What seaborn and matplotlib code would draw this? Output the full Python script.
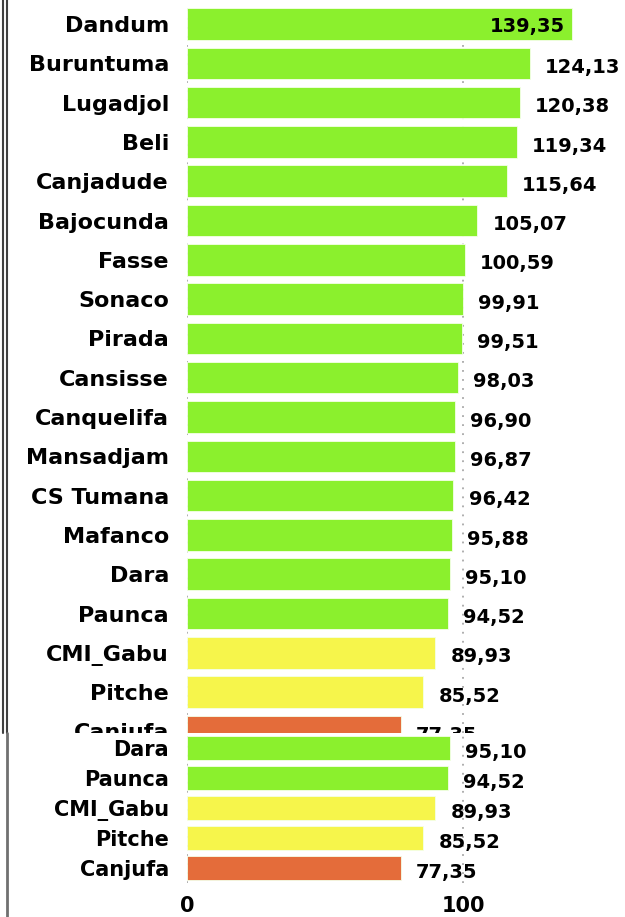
import matplotlib
matplotlib.use("Agg")
import matplotlib.pyplot as plt
from matplotlib.patches import Rectangle
from matplotlib.lines import Line2D
import seaborn as sns

# data
names = ["Dandum", "Buruntuma", "Lugadjol", "Beli", "Canjadude", "Bajocunda", "Fasse",
         "Sonaco", "Pirada", "Cansisse", "Canquelifa", "Mansadjam", "CS Tumana", "Mafanco",
         "Dara", "Paunca", "CMI_Gabu", "Pitche", "Canjufa"]
values = [139.35, 124.13, 120.38, 119.34, 115.64, 105.07, 100.59,
          99.91, 99.51, 98.03, 96.90, 96.87, 96.42, 95.88,
          95.10, 94.52, 89.93, 85.52, 77.35]
# the pasted strip at the bottom repeats the last five rows
inset_names = ["Dara", "Paunca", "CMI_Gabu", "Pitche", "Canjufa"]
inset_values = [95.10, 94.52, 89.93, 85.52, 77.35]
xtick_vals = [0, 100]

palette = {"high": "#8bf02d", "mid": "#f6f54b", "low": "#e46c3a"}


def band(v):
    if v >= 90:
        return "high"
    if v >= 80:
        return "mid"
    return "low"


def fmt(v):
    return f"{v:.2f}".replace(".", ",")


sns.set_style("white")
plt.rcParams["font.family"] = ["DejaVu Sans"]

W, H = 625, 917
fig = plt.figure(figsize=(W / 100, H / 100), dpi=100)

x0 = 187          # pixel of value 0
xmax = 155
px_per = 2.763
ax_w = xmax * px_per / W


def draw(ax, labels, vals, label_size, val_size):
    sns.barplot(x=vals, y=labels, hue=[band(v) for v in vals], palette=palette,
                saturation=1, dodge=False, legend=False, orient="h", width=0.8,
                edgecolor="#f4ffe8", linewidth=0.6, ax=ax, zorder=2)
    ax.set_xlim(0, xmax)
    ax.set_xticks(xtick_vals)
    ax.grid(axis="x", linestyle=(0, (1, 4)), color="#a8a8a8", linewidth=1.3, zorder=0)
    ax.grid(axis="y", visible=False)
    for s in ax.spines.values():
        s.set_visible(False)
    ax.set_xlabel("")
    ax.set_ylabel("")
    ax.tick_params(axis="y", length=0, pad=13)
    for t in ax.get_yticklabels():
        t.set_fontsize(label_size)
        t.set_fontweight("bold")
        t.set_color("black")
    for i, v in enumerate(vals):
        if v > 130:
            ax.annotate(fmt(v), (v, i), xytext=(-5, -2), textcoords="offset points",
                        ha="right", va="center", fontsize=val_size, fontweight="bold",
                        color="black", zorder=3)
        else:
            ax.annotate(fmt(v), (v, i), xytext=(11, -3), textcoords="offset points",
                        ha="left", va="center", fontsize=val_size, fontweight="bold",
                        color="black", annotation_clip=False, zorder=3)


# main chart, its bottom is hidden under the pasted strip
top_px = 24 - 39.3 / 2
bot_px = 24 + 39.3 * 18.5
ax = fig.add_axes([x0 / W, (H - bot_px) / H, ax_w, (bot_px - top_px) / H])
ax.set_zorder(1)
draw(ax, names, values, 16, 14)
ax.tick_params(axis="x", length=0, labelbottom=False)

# white strip over the bottom of the main chart
fig.patches.append(Rectangle((10 / W, 0), 1, (H - 733) / H, transform=fig.transFigure,
                             facecolor="white", edgecolor="none", zorder=1.5))

ins_top = 733
ins_bot = 883
ax2 = fig.add_axes([x0 / W, (H - ins_bot) / H, ax_w, (ins_bot - ins_top) / H])
ax2.set_zorder(2)
draw(ax2, inset_names, inset_values, 15, 14)
ax2.tick_params(axis="x", length=0, pad=9, labelsize=15, labelcolor="black")
for t in ax2.get_xticklabels():
    t.set_fontweight("bold")

# borders on the left edge
fig.lines.append(Line2D([2.5 / W, 2.5 / W], [(H - 733) / H, 1], transform=fig.transFigure,
                        color="#404040", linewidth=1.5))
fig.lines.append(Line2D([6.5 / W, 6.5 / W], [(H - 733) / H, 1], transform=fig.transFigure,
                        color="#404040", linewidth=1.5))
fig.lines.append(Line2D([7 / W, 7 / W], [0, (H - 733) / H], transform=fig.transFigure,
                        color="#707070", linewidth=2))

fig.savefig("out.png", dpi=100, facecolor="white")
